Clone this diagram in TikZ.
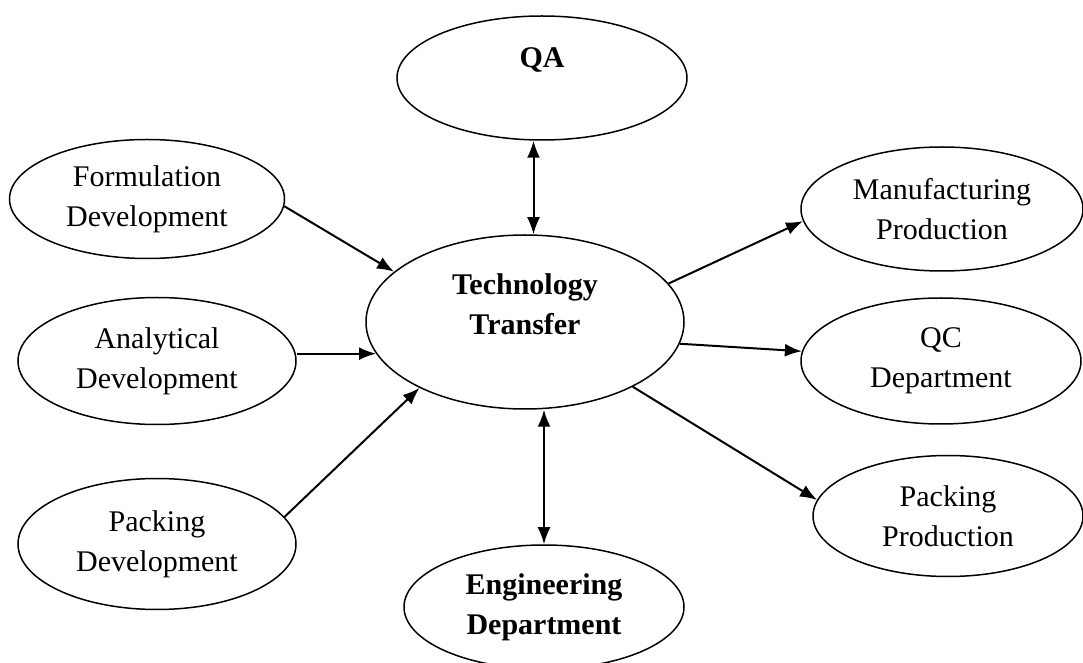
\documentclass[tikz,border=0pt]{standalone}
\usepackage{fontspec}
\setmainfont{Liberation Serif}
\usetikzlibrary{shapes.geometric, arrows.meta, calc}

\newcommand{\deptfont}{\fontsize{15}{20}\selectfont}

\begin{document}
\begin{tikzpicture}[x=0.5pt, y=-0.5pt, font=\deptfont]
        % Setup the style for the departments
        \tikzset{dept/.style={ellipse,
                              draw,
                              line width=0.75pt,
                              inner sep=0pt,
                              minimum width=139pt,
                              minimum height=62pt,
                              align=center},
                 head/.style={font=\deptfont\bfseries}}

        \useasboundingbox (0, 0) rectangle (1083, 663);

        % Draw the departments
        \node[dept, head, minimum width=145pt, text height=10pt, text depth=20pt] at (542, 78) (QA) {QA};
        \node[dept, head, minimum width=159pt, minimum height=87pt,
              text height=30.5pt, text depth=17.5pt] at (525, 322) (TT) {Technology\\Transfer};
        \node[dept, head, minimum width=140pt] at (544, 607) (ED) {Engineering\\Department};

        \node[dept, minimum width=137.5pt, minimum height=59.5pt] at (147, 199) (FD) {Formulation\\Development};
        \node[dept, minimum height=63.5pt] at (157, 361) (AD) {Analytical\\Development};
        \node[dept, minimum height=65.5pt] at (157, 544) (PD) {Packing\\Development};

        \node[dept, minimum width=141pt] at (942, 209) (MP) {Manufacturing\\Production};
        \node[dept, minimum width=140pt, minimum height=63pt] at (941, 361) (QC) {QC\\Department};
        \node[dept, minimum width=135pt, minimum height=60.5pt] at (948, 516) (PP) {Packing\\Production};

        \coordinate (qa link) at ($(QA.south)!0.5!(TT.north)$);

        % Connect the departments with arrows
        \draw[line width=1pt,
              >={Latex[length=8.5pt, width=6.5pt]}]
            (FD.-3)                edge[->]  (TT.159)
            (TT.192 -| AD.east)    edge[->]  (TT.192)
            (PD.12)                edge[->]  (TT.212)

            (TT.15)                edge[->]  (MP.185)
            (TT.-8)                edge[->]  (QC.176)
            (TT.-31)               edge[->]  (PP.173)

            (QA.south -| qa link)  edge[<->] (TT.north -| qa link)
            (TT.south -| ED.north) edge[<->] (ED.north);
\end{tikzpicture}
\end{document}
